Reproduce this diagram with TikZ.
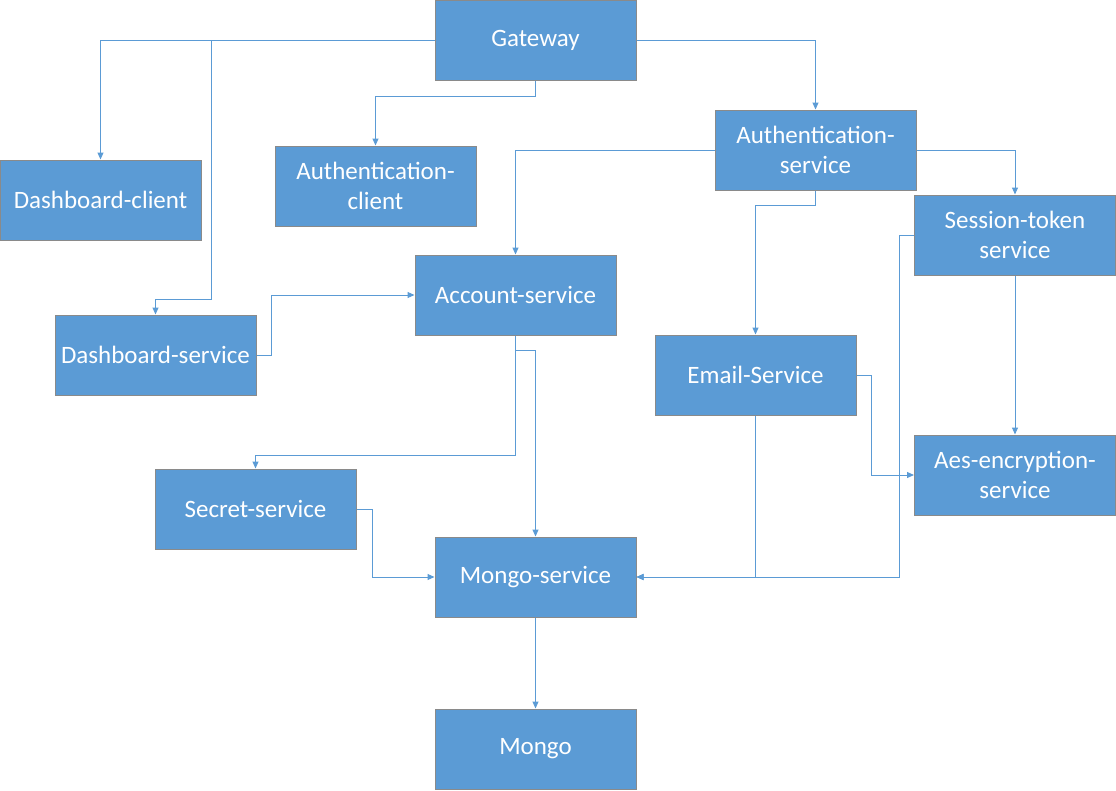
\documentclass[tikz,border=0pt]{standalone}
\usepackage{fontspec}
\setmainfont{Carlito}
\usetikzlibrary{arrows.meta}
\definecolor{boxfill}{HTML}{5B9BD5}
\definecolor{boxborder}{HTML}{8A8A8A}
\definecolor{linecol}{HTML}{5B9BD5}
\tikzset{
  box/.style={draw=boxborder, fill=boxfill, text=white, line width=1pt,
    minimum width=201pt, minimum height=80pt, inner sep=0pt, align=center,
    font=\fontsize{25}{30}\selectfont},
  conn/.style={draw=linecol, line width=1pt, -{Triangle[length=7pt,width=6pt]}}
}
\begin{document}
\begin{tikzpicture}[x=1pt,y=-1pt]
\useasboundingbox (0,0) rectangle (1116,790);
\node[box] (gw)  at (535.5,40)  {Gateway};
\node[box] (dc)  at (100.5,200) {Dashboard-client};
\node[box] (ac)  at (375.5,186) {Authentication-\\client};
\node[box] (as)  at (815.5,150) {Authentication-\\service};
\node[box] (st)  at (1015,235)  {Session-token\\service};
\node[box] (acc) at (515.5,295) {Account-service};
\node[box] (ds)  at (155.5,355) {Dashboard-service};
\node[box] (em)  at (755.5,375) {Email-Service};
\node[box] (aes) at (1015,475)  {Aes-encryption-\\service};
\node[box] (ss)  at (255.5,509) {Secret-service};
\node[box] (ms)  at (535.5,577) {Mongo-service};
\node[box] (mg)  at (535.5,749) {Mongo};

\draw[conn] (gw.west) -| (dc.north);
\draw[conn] (gw.west) -| (211,299) -| (ds.north);
\draw[conn] (gw.south) -- ++(0,16) -| (ac.north);
\draw[conn] (gw.east) -| (as.north);
\draw[conn] (as.west) -| (acc.north);
\draw[conn] (as.east) -| (st.north);
\draw[conn] (as.south) -- ++(0,15) -| (em.north);
\draw[conn] (st.south) -- (aes.north);
\draw[conn] (st.west) -- ++(-15,0) |- (ms.east);
\draw[conn] (em.south) |- (ms.east);
\draw[conn] (em.east) -- ++(15,0) |- (aes.west);
\draw[conn] (ds.east) -- ++(15,0) |- (acc.west);
\draw[conn] (acc.south) -- ++(0,120) -| (ss.north);
\draw[conn] (acc.south) -- ++(0,15) -| (ms.north);
\draw[conn] (ss.east) -- ++(16,0) |- (ms.west);
\draw[conn] (ms.south) -- (mg.north);
\end{tikzpicture}
\end{document}
